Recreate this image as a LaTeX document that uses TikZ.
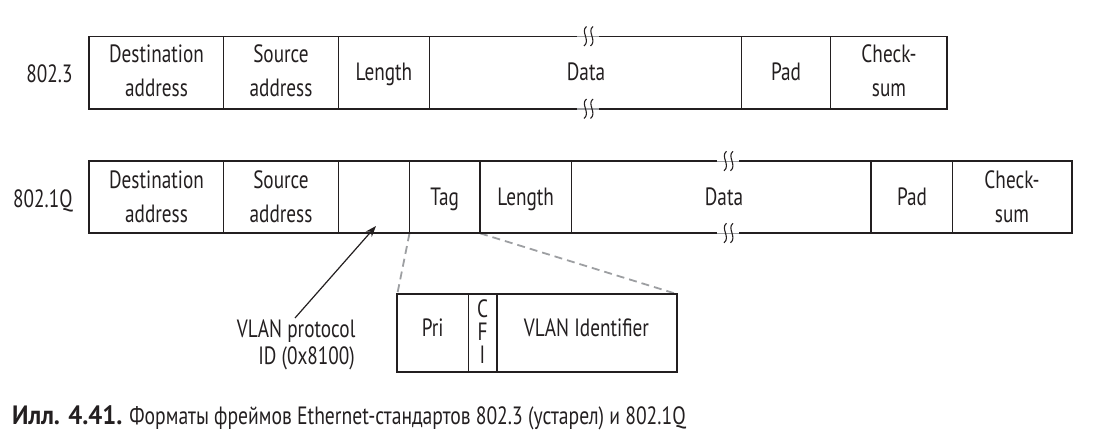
\documentclass[tikz,border=0pt]{standalone}
\usepackage{fontspec}
\setmainfont{PT Sans}[FakeStretch=0.77]
\newfontfamily\capfont{PT Sans}[FakeStretch=0.785]
\newfontfamily\capbold{PT Sans Bold}[FakeStretch=0.93]
\usetikzlibrary{arrows.meta}
\definecolor{ink}{HTML}{231F20}
\definecolor{dashgray}{HTML}{9D9FA2}
\begin{document}
\begin{tikzpicture}[x=1pt,y=-1pt,
  font=\fontsize{25}{30}\selectfont, color=ink,
  frame/.style={line width=1.7pt, ink},
  divline/.style={line width=1.2pt, ink},
  lbl/.style={anchor=base, inner sep=0pt, text=ink},
  lble/.style={anchor=base east, inner sep=0pt, text=ink},
  tagline/.style={dashgray, line width=1.8pt, dash pattern=on 8pt off 5pt},
  ptr/.style={ink, line width=1.2pt, -{Stealth[length=11pt,width=8pt]}},
  breakmark/.pic={
    \fill[white] (-11,-2.5) rectangle (11,2.5);
    \draw[dashgray, line width=1.5pt] (-11,0) -- (11,0);
    \draw[ink, line width=1.1pt] (-1.5,-10) .. controls (-8,-5) and (3,4) .. (-4,9.5);
    \draw[ink, line width=1.1pt] (5,-10) .. controls (-1.5,-5) and (9.5,4) .. (2.5,9.5);
  }]
\useasboundingbox (0,0) rectangle (1100,441);

% ---------- row 1: 802.3 ----------
\draw[frame] (89.3,36.5) rectangle (947.3,109);
\foreach \x in {223.8,338.5,429.7,741.5,830.6}
  \draw[divline] (\x,36.5) -- (\x,109);
\pic at (588,36.5) {breakmark};
\pic at (588,109) {breakmark};
\node[lbl] (lab1) at (49.5,83) {802.3};
\node[lbl] (dst1a) at (156.5,63) {Destination};
\node[lbl] (dst1b) at (156.5,97) {address};
\node[lbl] (src1a) at (281,63) {Source};
\node[lbl] (src1b) at (281,97) {address};
\node[lbl] (len1) at (384,80.7) {Length};
\node[lbl] (dat1) at (586,80.7) {Data};
\node[lbl] (pad1) at (786,80.7) {Pad};
\node[lbl] (chk1a) at (889,63) {Check-};
\node[lbl] (chk1b) at (889,97) {sum};

% ---------- row 2: 802.1Q ----------
\coordinate (tagbl) at (409.5,233.3);
\coordinate (tagbr) at (480,233.3);
\coordinate (vtl) at (397.3,294);
\coordinate (vtr) at (676.7,294);
\draw[tagline] (tagbl) -- (vtl);
\draw[tagline] (tagbr) -- (vtr);

\draw[frame] (89.3,161.3) rectangle (1071.7,233.3);
\foreach \x in {223.8,338.5,409.5,480,571.5,871,952.7}
  \draw[divline] (\x,161.3) -- (\x,233.3);
\pic at (728,161.3) {breakmark};
\pic at (728,233.3) {breakmark};
\node[lble] (lab2) at (72.7,207) {802.1Q};
\node[lbl] (dst2a) at (156.5,188) {Destination};
\node[lbl] (dst2b) at (156.5,222) {address};
\node[lbl] (src2a) at (281,188) {Source};
\node[lbl] (src2b) at (281,222) {address};
\node[lbl] (tag2) at (444.7,205.3) {Tag};
\node[lbl] (len2) at (525.7,205.3) {Length};
\node[lbl] (dat2) at (724,205.3) {Data};
\node[lbl] (pad2) at (912,205.3) {Pad};
\node[lbl] (chk2a) at (1012,188) {Check-};
\node[lbl] (chk2b) at (1012,222) {sum};

% ---------- tag detail ----------
\draw[frame] (vtl) rectangle (676.7,372.3);
\draw[divline] (468.3,294) -- (468.3,372.3);
\draw[frame] (496.7,294) -- (496.7,372.3);
\node[lbl] (pri) at (432.7,336.7) {Pri};
\node[lbl] (cfic) at (482.5,317) {C};
\node[lbl] (cfif) at (482.5,340) {F};
\node[lbl] (cfii) at (482.5,363) {I};
\node[lbl] (vid) at (586.5,336.7) {VLAN Identifier};

% ---------- VLAN protocol ID pointer ----------
\node[lble] (vp1) at (355.6,337) {VLAN protocol};
\node[lble] (vp2) at (355,364) {ID (0x8100)};
\coordinate (ptrtail) at (295,318);
\coordinate (ptrtip) at (376,226);
\draw[ptr] (ptrtail) -- (ptrtip);

% ---------- caption ----------
\node[anchor=base west, inner sep=0pt, text=ink, font=\capfont\fontsize{25}{30}\selectfont] (cap) at (12,424)
  {{\capbold\fontsize{26.5}{30}\selectfont Илл. 4.41.} Форматы фреймов Ethernet-стандартов 802.3 (устарел) и 802.1Q};
\end{tikzpicture}
\end{document}
